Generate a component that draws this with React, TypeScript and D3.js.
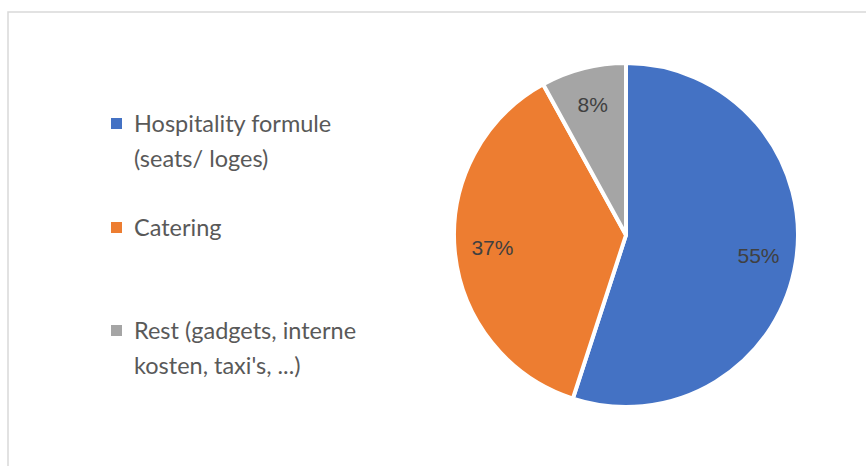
import React from "react";
import * as d3 from "d3";

const categories = [
  ["Hospitality formule", "(seats/ loges)"],
  ["Catering"],
  ["Rest (gadgets, interne", "kosten, taxi's, ...)"],
];
const values = [55, 37, 8];
const labels = ["55%", "37%", "8%"];
const colors = ["#4472C4", "#ED7D31", "#A5A5A5"];

export default function App() {
  const W = 866, H = 466;
  const cx = 626, cy = 235, r = 172;
  const pie = d3.pie<number>().sort(null).value((d) => d);
  const arcs = pie(values);
  const arc = d3.arc<d3.PieArcDatum<number>>().innerRadius(0).outerRadius(r);
  const labelArc = d3.arc<d3.PieArcDatum<number>>().innerRadius(r * 0.78).outerRadius(r * 0.78);

  const legendY = [124, 228, 331];
  const lineH = 35;

  return (
    <svg width={W} height={H} style={{ position: "absolute", left: 0, top: 0 }}>
      <rect x={0} y={0} width={W} height={H} fill="#fff" />
      <rect x={8} y={12} width={W + 20} height={H + 20} fill="#fff" stroke="#d9d9d9" strokeWidth={1.5} />
      <g transform={`translate(${cx},${cy})`}>
        {arcs.map((a, i) => (
          <path key={i} d={arc(a) || ""} fill={colors[i]} stroke="#fff" strokeWidth={4} strokeLinejoin="round" />
        ))}
        {arcs.map((a, i) => {
          const [x, y] = labelArc.centroid(a);
          return (
            <text key={i} x={x} y={y} dy="0.35em" textAnchor="middle" fontFamily="Liberation Sans, Arial, sans-serif" fontSize={21} fill="#404040">
              {labels[i]}
            </text>
          );
        })}
      </g>
      {categories.map((lines, i) => (
        <g key={i}>
          <rect x={111} y={legendY[i] - 6} width={11} height={11} fill={colors[i]} />
          {lines.map((t, j) => (
            <text key={j} x={134} y={legendY[i] + j * lineH} dy="0.35em" fontFamily="Lato, sans-serif" fontSize={23.5} fill="#595959">
              {t}
            </text>
          ))}
        </g>
      ))}
    </svg>
  );
}
